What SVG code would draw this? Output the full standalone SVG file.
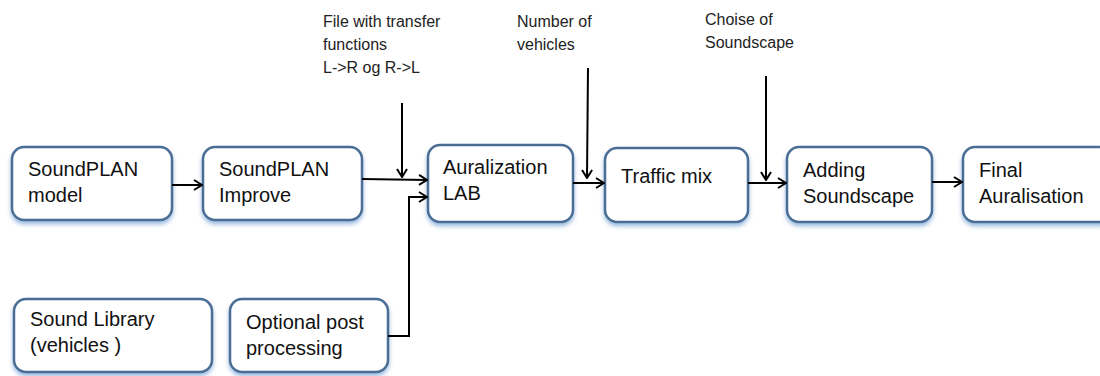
<svg xmlns="http://www.w3.org/2000/svg" width="1100" height="376" viewBox="0 0 1100 376">
<defs>
<filter id="sh" x="-10%" y="-10%" width="120%" height="130%">
<feGaussianBlur in="SourceAlpha" stdDeviation="2"/>
<feOffset dx="0" dy="3" result="b"/>
<feFlood flood-color="#8fb3dc" flood-opacity="0.9"/>
<feComposite in2="b" operator="in"/>
<feMerge><feMergeNode/><feMergeNode in="SourceGraphic"/></feMerge>
</filter>
<marker id="ah" viewBox="0 0 12 12" refX="11" refY="6" markerWidth="12" markerHeight="12" markerUnits="userSpaceOnUse" orient="auto">
<polyline points="3,1 11,6 3,11" fill="none" stroke="#000" stroke-width="2"/>
</marker>
</defs>
<style>
.box{fill:#fff;stroke:#4a6d94;stroke-width:2.5;filter:url(#sh)}
.t{font-family:"Liberation Sans",Arial,sans-serif;font-size:20px;fill:#111}
.s{font-family:"Liberation Sans",Arial,sans-serif;font-size:16px;fill:#222}
.c{fill:none;stroke:#000;stroke-width:2;marker-end:url(#ah)}
</style>
<rect width="1100" height="376" fill="#fff"/>
<g id="labels">
<text class="s" x="323" y="27">File with transfer</text>
<text class="s" x="323" y="50">functions</text>
<text class="s" x="323" y="73">L-&gt;R og R-&gt;L</text>
<text class="s" x="517" y="27">Number of</text>
<text class="s" x="517" y="50">vehicles</text>
<text class="s" x="705" y="25">Choise of</text>
<text class="s" x="705" y="48">Soundscape</text>
</g>
<g id="n1"><rect class="box" x="12" y="147" width="160" height="73" rx="12"/>
<text class="t" x="28" y="176">SoundPLAN</text><text class="t" x="28" y="202">model</text></g>
<g id="n2"><rect class="box" x="203" y="147" width="159" height="73" rx="12"/>
<text class="t" x="219" y="176">SoundPLAN</text><text class="t" x="219" y="202">Improve</text></g>
<g id="n3"><rect class="box" x="428" y="145" width="145" height="77" rx="12"/>
<text class="t" x="443" y="174">Auralization</text><text class="t" x="443" y="200">LAB</text></g>
<g id="n4"><rect class="box" x="605" y="148" width="143" height="74" rx="12"/>
<text class="t" x="621" y="183">Traffic mix</text></g>
<g id="n5"><rect class="box" x="787" y="147" width="145" height="75" rx="12"/>
<text class="t" x="803" y="177">Adding</text><text class="t" x="803" y="203">Soundscape</text></g>
<g id="n6"><rect class="box" x="963" y="147" width="150" height="75" rx="12"/>
<text class="t" x="979" y="177">Final</text><text class="t" x="979" y="203">Auralisation</text></g>
<g id="n7"><rect class="box" x="14" y="299" width="198" height="73" rx="12"/>
<text class="t" x="30" y="326">Sound Library</text><text class="t" x="30" y="352">(vehicles )</text></g>
<g id="n8"><rect class="box" x="230" y="299" width="158" height="73" rx="12"/>
<text class="t" x="246" y="329">Optional post</text><text class="t" x="246" y="355">processing</text></g>
<g id="connectors">
<line class="c" x1="172" y1="185" x2="202" y2="185"/>
<line class="c" x1="362" y1="179" x2="427" y2="180"/>
<polyline class="c" points="388,336 409,336 409,197 427,197"/>
<line class="c" x1="402" y1="103" x2="402" y2="177"/>
<line class="c" x1="573" y1="183" x2="604" y2="183"/>
<line class="c" x1="588" y1="68" x2="587" y2="178"/>
<line class="c" x1="748" y1="183" x2="786" y2="183"/>
<line class="c" x1="766" y1="76" x2="766" y2="180"/>
<line class="c" x1="932" y1="182" x2="962" y2="182"/>
</g>
</svg>
